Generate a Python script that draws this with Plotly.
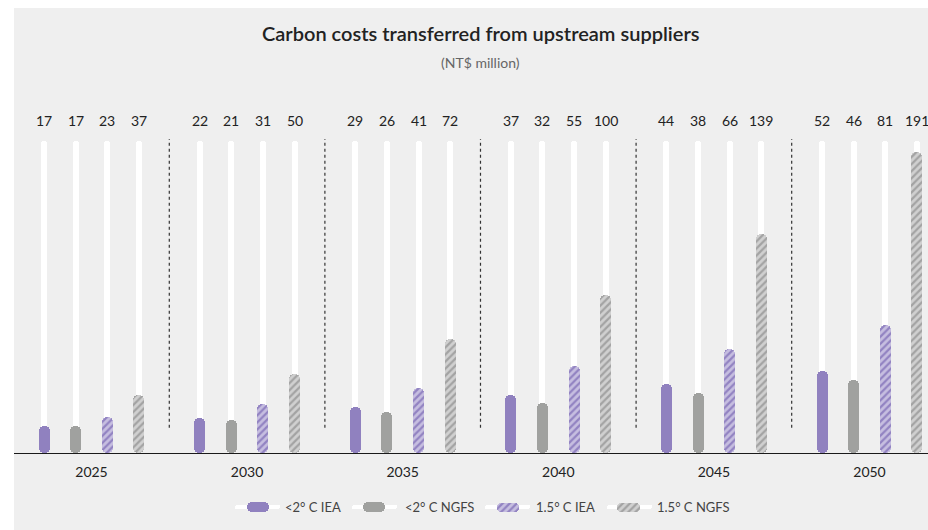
import plotly.graph_objects as go

# Carbon costs transferred from upstream suppliers (NT$ million)
years = ["2025", "2030", "2035", "2040", "2045", "2050"]
series_names = ["<2° C IEA", "<2° C NGFS", "1.5° C IEA", "1.5° C NGFS"]
iea_2c = [17, 22, 29, 37, 44, 52]
ngfs_2c = [17, 21, 26, 32, 38, 46]
iea_15c = [23, 31, 41, 55, 66, 81]
ngfs_15c = [37, 50, 72, 100, 139, 191]
track_max = 198

FONT = "Lato, 'Noto Sans', sans-serif"
W, H = 928, 530
LEFT = 14

PURPLE = "#9081bf"
GREY = "#a0a19f"
series = [
    dict(name=series_names[0], values=iea_2c, color=PURPLE, pattern=None),
    dict(name=series_names[1], values=ngfs_2c, color=GREY, pattern=None),
    dict(name=series_names[2], values=iea_15c, color="#c6bee0",
         pattern=dict(shape="/", fgcolor="#9283c2", bgcolor="#c6bee0",
                      size=5, solidity=0.45, fillmode="replace")),
    dict(name=series_names[3], values=ngfs_15c, color="#cfcfcf",
         pattern=dict(shape="/", fgcolor="#a3a3a3", bgcolor="#d0d0d0",
                      size=5, solidity=0.45, fillmode="replace")),
]
offsets = [-0.305, -0.102, 0.102, 0.305]
groups = list(range(len(years)))

fig = go.Figure()

# white tracks behind every bar
for off in offsets:
    fig.add_trace(go.Bar(
        x=[g + off for g in groups], y=[track_max] * len(groups),
        base=[0] * len(groups),
        width=0.038, marker=dict(color="white", line=dict(width=0), cornerradius=3),
        showlegend=False, hoverinfo="skip"))

# value bars
for s, off in zip(series, offsets):
    marker = dict(color=s["color"], line=dict(width=0), cornerradius=6)
    if s["pattern"]:
        marker["pattern"] = s["pattern"]
    fig.add_trace(go.Bar(
        x=[g + off for g in groups], y=s["values"], base=[0] * len(groups),
        width=0.071, marker=marker, name=s["name"], showlegend=False))

annotations = []
# value labels above each track
for s, off in zip(series, offsets):
    for g, v in zip(groups, s["values"]):
        annotations.append(dict(
            x=g + off, y=211, xref="x", yref="y", text=str(v), showarrow=False,
            font=dict(family=FONT, size=14, color="#222222"),
            xanchor="center", yanchor="middle"))

# title and subtitle
annotations.append(dict(
    x=480.5, y=(H - 33) / H, xref="x2", yref="paper",
    text="Carbon costs transferred from upstream suppliers", showarrow=False,
    font=dict(family=FONT, size=20, color="#222222", weight=600),
    xanchor="center", yanchor="middle"))
annotations.append(dict(
    x=480.5, y=(H - 63) / H, xref="x2", yref="paper",
    text="(NT$ million)", showarrow=False,
    font=dict(family=FONT, size=14, color="#666666"),
    xanchor="center", yanchor="middle"))

# custom legend: white track with a rounded swatch, drawn on a pixel-scaled axis
legend_items = [
    dict(track=(235, 280), pill=(247, 269), text_x=283, h=10),
    dict(track=(352, 397), pill=(363, 385), text_x=403, h=10),
    dict(track=(485, 530), pill=(497, 519), text_x=534, h=9),
    dict(track=(607, 652), pill=(617, 640), text_x=655, h=9),
]
LEG_Y = 507
for s, item in zip(series, legend_items):
    t0, t1 = item["track"]
    fig.add_trace(go.Bar(
        orientation="h", y=[LEG_Y], base=[t0], x=[t1 - t0],
        width=[4], marker=dict(color="white", line=dict(width=0), cornerradius=2),
        xaxis="x2", yaxis="y2", showlegend=False, hoverinfo="skip"))
    p0, p1 = item["pill"]
    marker = dict(color=s["color"], line=dict(width=0), cornerradius=5)
    if s["pattern"]:
        marker["pattern"] = s["pattern"]
    fig.add_trace(go.Bar(
        orientation="h", y=[LEG_Y], base=[p0], x=[p1 - p0],
        width=[item["h"]], marker=marker,
        xaxis="x2", yaxis="y2", showlegend=False, hoverinfo="skip"))
    annotations.append(dict(
        x=item["text_x"], y=LEG_Y, xref="x2", yref="y2", text=s["name"],
        showarrow=False, font=dict(family=FONT, size=13, color="#444444"),
        xanchor="left", yanchor="middle"))

shapes = [dict(type="rect", xref="paper", yref="paper", x0=0, x1=1, y0=0,
               y1=(H - 8) / H, fillcolor="#efefef", line=dict(width=0), layer="below")]
# dotted separators between year groups
for g in groups[:-1]:
    shapes.append(dict(type="line", xref="x", yref="y", x0=g + 0.5, x1=g + 0.5,
                       y0=16, y1=199, line=dict(color="#333333", width=1.2, dash="dot")))

fig.update_layout(
    width=W, height=H,
    margin=dict(l=LEFT, r=0, t=0, b=0),
    paper_bgcolor="white", plot_bgcolor="rgba(0,0,0,0)",
    barmode="overlay", bargap=0,
    font=dict(family=FONT),
    xaxis=dict(range=[-0.498, 5.376], domain=[0, 1], showgrid=False, zeroline=False,
               showline=True, linecolor="#1a1a1a", linewidth=1.2,
               tickvals=groups, ticktext=years, ticks="outside", ticklen=6,
               tickcolor="rgba(0,0,0,0)",
               tickfont=dict(family=FONT, size=14, color="#222222"), fixedrange=True),
    yaxis=dict(range=[0, 223.8], domain=[77 / H, 430 / H], visible=False, fixedrange=True),
    xaxis2=dict(range=[LEFT, W], domain=[0, 1], visible=False, anchor="y2", fixedrange=True),
    yaxis2=dict(range=[520, 490], domain=[10 / H, 40 / H], visible=False, anchor="x2",
                fixedrange=True),
    annotations=annotations,
    shapes=shapes,
)

fig.write_html("out.html")
